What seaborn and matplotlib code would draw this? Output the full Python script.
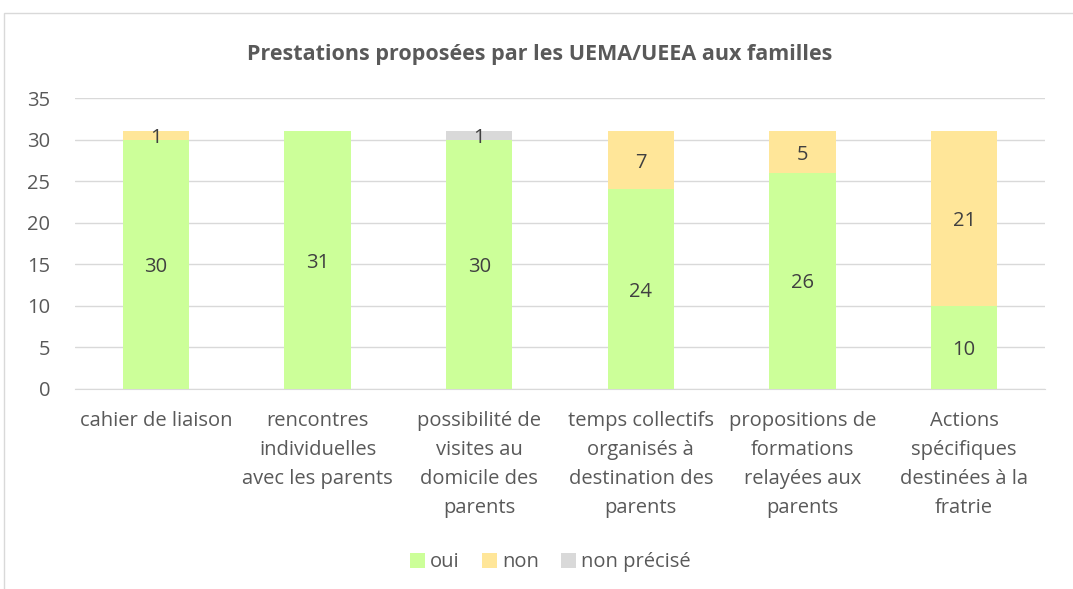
import matplotlib
matplotlib.use("Agg")
import matplotlib.pyplot as plt
import seaborn as sns
import pandas as pd
import numpy as np
from matplotlib.patches import Rectangle, Patch

sns.set_style("white")
plt.rcParams['font.family'] = ['Open Sans', 'DejaVu Sans']

# data
categories = ["cahier de liaison",
              "rencontres\nindividuelles\navec les parents",
              "possibilité de\nvisites au\ndomicile des\nparents",
              "temps collectifs\norganisés à\ndestination des\nparents",
              "propositions de\nformations\nrelayées aux\nparents",
              "Actions\nspécifiques\ndestinées à la\nfratrie"]
oui = [30, 31, 30, 24, 26, 10]
non = [1, 0, 0, 7, 5, 21]
non_precise = [0, 0, 1, 0, 0, 0]

series = ["oui", "non", "non précisé"]
colors = {"oui": "#CCFF99", "non": "#FFE699", "non précisé": "#D9D9D9"}

df = pd.DataFrame({"cat": categories, "oui": oui, "non": non, "non précisé": non_precise})
df["c1"] = df["oui"]
df["c2"] = df["oui"] + df["non"]
df["c3"] = df["c2"] + df["non précisé"]

fig = plt.figure(figsize=(10.73, 5.89), dpi=100)
ax = fig.add_axes([0.0699, 0.3396, 0.904, 0.494])

# stacked bars: draw cumulative totals from top layer down
for col, name in [("c3", "non précisé"), ("c2", "non"), ("c1", "oui")]:
    sns.barplot(data=df, x="cat", y=col, color=colors[name], width=0.41,
                saturation=1, ax=ax, zorder=3, edgecolor="none")

# value labels centred in each segment
for i, row in df.iterrows():
    bottom = 0
    for name in series:
        v = row[name]
        if v > 0:
            ax.text(i, bottom + v / 2, str(v), ha="center", va="center_baseline",
                    fontsize=14.5, color="#404040", zorder=4)
        bottom += v

ax.set_ylim(0, 35)
ax.set_xlim(-0.5, 5.5)
ax.set_yticks(range(0, 36, 5))
ax.yaxis.grid(True, color="#D9D9D9", linewidth=1)
ax.set_axisbelow(True)
ax.set_xlabel("")
ax.set_ylabel("")
for s in ["left", "right", "top"]:
    ax.spines[s].set_visible(False)
ax.spines["bottom"].set_color("#D9D9D9")
ax.tick_params(axis="both", length=0, labelsize=14.5, labelcolor="#595959")
ax.tick_params(axis="x", pad=16)
ax.tick_params(axis="y", pad=18)
for lab in ax.get_xticklabels():
    lab.set_linespacing(1.6)
    lab.set_va("top")

fig.text(0.503, 0.907, "Prestations proposées par les UEMA/UEEA aux familles",
         ha="center", va="center", fontsize=15.5, fontweight="bold", color="#595959")

handles = [Patch(facecolor=colors[n], edgecolor="none") for n in series]
fig.legend(handles, series, loc="center", bbox_to_anchor=(0.513, 0.045), ncol=3,
           frameon=False, fontsize=14.5, handlelength=0.75, handleheight=0.75,
           handletextpad=0.25, columnspacing=1.1, labelcolor="#595959")

# chart area frame
fig.patches.append(Rectangle((4 / 1073, -0.1), 1.2, 1 - 13 / 589 + 0.1,
                             transform=fig.transFigure, fill=False,
                             edgecolor="#D9D9D9", linewidth=1))

fig.savefig("out.png", dpi=100)
